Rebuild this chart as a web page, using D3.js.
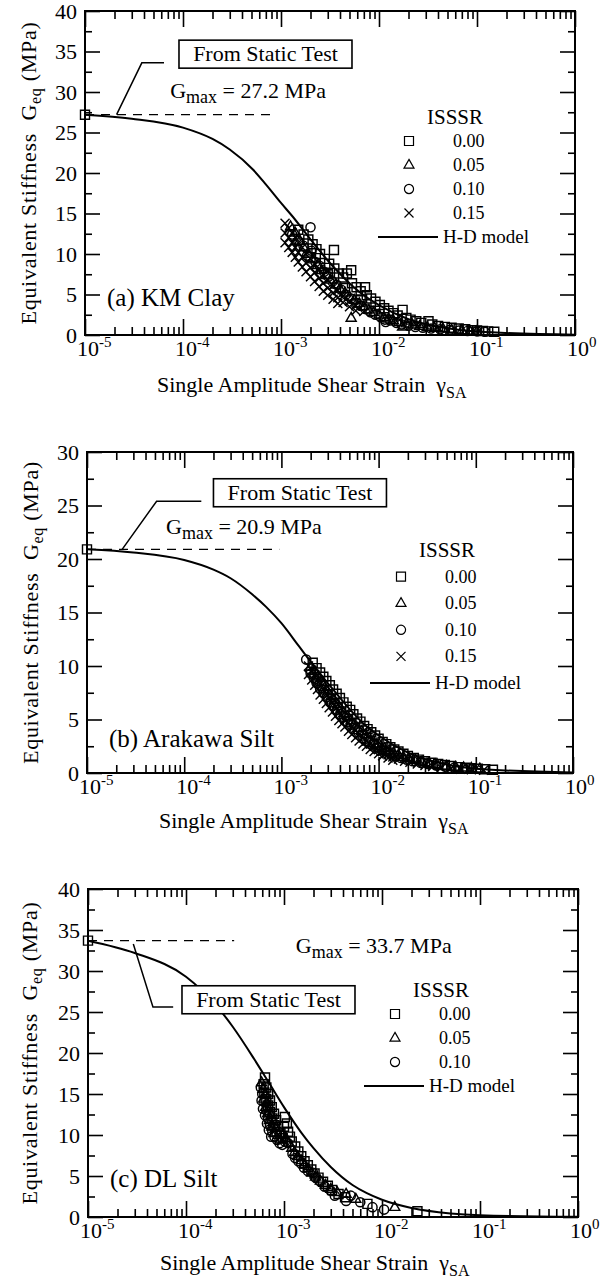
<!DOCTYPE html>
<html><head><meta charset="utf-8">
<script src="https://cdn.jsdelivr.net/npm/d3@7"></script>
<style>
body{margin:0;background:#fff}
svg text{font-family:"Liberation Serif","Times New Roman",serif;fill:#000}
</style>
</head><body>
<svg id="fig" width="612" height="1283"></svg>
<script>
// ---------- shared tick data ----------
const strainDecades = [1e-5, 1e-4, 1e-3, 1e-2, 1e-1, 1];
const decadeExponents = ["-5", "-4", "-3", "-2", "-1", "0"];
const yTicks40 = [0, 5, 10, 15, 20, 25, 30, 35, 40];
const yTicks30 = [0, 5, 10, 15, 20, 25, 30];
const isssrLabels = ["0.00", "0.05", "0.10", "0.15"];

// ---------- (a) KM Clay ----------
const gmaxA = 27.2;
const curveStrainA = [1e-5, 3e-5, 1e-4, 2e-4, 3e-4, 5.2e-4, 7e-4, 1e-3, 1.32e-3, 2e-3, 3e-3, 5e-3, 7e-3, 1e-2, 2e-2, 5e-2, 1e-1, 1];
const curveGA = [27.2, 26.7, 25.6, 24.2, 22.9, 20.4, 18.6, 16.3, 14.6, 11.8, 9.2, 6.4, 4.9, 3.7, 1.95, 0.82, 0.42, 0.04];
const kmSquares = [[1.5e-3,13.0],[1.7e-3,12.4],[1.9e-3,11.8],[2.1e-3,11.2],[2.3e-3,10.6],[2.5e-3,10.0],[2.8e-3,9.4],[3.1e-3,8.8],[3.47e-3,10.5],[3.5e-3,8.2],[3.9e-3,7.6],[4.3e-3,7.1],[4.7e-3,7.6],[5.2e-3,8.0],[5.3e-3,6.4],[5.9e-3,5.9],[6.5e-3,5.4],[7.2e-3,5.9],[7.5e-3,4.9],[8.3e-3,4.5],[9.2e-3,4.1],[1.02e-2,3.7],[1.13e-2,3.3],[1.25e-2,3.0],[1.4e-2,2.7],[1.55e-2,2.4],[1.74e-2,3.1],[1.9e-2,2.1],[2.1e-2,1.9],[2.4e-2,1.7],[2.7e-2,1.5],[3.2e-2,1.7],[3.5e-2,1.3],[4e-2,1.1],[4.7e-2,1.0],[5.5e-2,0.9],[6.5e-2,0.8],[7.5e-2,0.7],[8.8e-2,0.6],[0.1,0.55],[0.115,0.5],[0.13,0.45],[0.15,0.4],[2e-3,9.6],[3e-3,7.5],[4.5e-3,5.8],[6.5e-3,4.4]];
const kmTriangles = [[1.25e-3,13.4],[1.4e-3,12.6],[1.55e-3,11.6],[1.7e-3,10.8],[1.9e-3,10.0],[2.1e-3,9.3],[2.35e-3,8.6],[2.6e-3,8.0],[2.9e-3,7.4],[3.2e-3,6.8],[3.6e-3,6.2],[4e-3,5.7],[4.5e-3,5.2],[5.2e-3,2.1],[5e-3,4.7],[5.6e-3,4.3],[6.3e-3,3.9],[7e-3,3.5],[7.9e-3,3.1],[8.8e-3,2.8],[1e-2,2.5],[1.12e-2,2.2],[1.25e-2,2.0],[1.4e-2,1.8],[1.6e-2,1.6],[1.74e-2,1.0],[1.9e-2,1.4],[2.2e-2,1.25],[2.6e-2,1.1],[3.1e-2,0.95],[3.7e-2,0.85],[4.5e-2,0.75],[5.5e-2,0.65],[7e-2,0.55],[8.5e-2,0.5],[0.1,0.45]];
const kmCircles = [[1.3e-3,12.4],[1.5e-3,11.6],[1.7e-3,11.0],[2e-3,13.3],[1.85e-3,9.8],[2.05e-3,10.4],[2.25e-3,9.0],[2.5e-3,8.5],[2.75e-3,7.8],[3.05e-3,7.2],[3.35e-3,6.6],[3.7e-3,6.2],[4.1e-3,5.6],[4.6e-3,5.0],[5.2e-3,4.5],[5.8e-3,4.0],[6.5e-3,3.6],[7.3e-3,3.2],[8.2e-3,2.8],[9.2e-3,2.5],[1.04e-2,2.2],[1.17e-2,1.6],[1.15e-2,1.9],[1.3e-2,1.8],[1.5e-2,1.5],[1.7e-2,1.3],[2e-2,1.15],[2.35e-2,1.0],[2.8e-2,0.9],[3.4e-2,0.8],[4.2e-2,0.7],[5.2e-2,0.6],[6.5e-2,0.55],[8e-2,0.5],[0.1,0.45],[0.12,0.4]];
const kmCrosses = [[1.1e-3,13.8],[1.1e-3,12.6],[1.1e-3,11.4],[1.2e-3,13.2],[1.2e-3,12.0],[1.2e-3,10.8],[1.3e-3,12.6],[1.3e-3,11.4],[1.3e-3,10.2],[1.4e-3,12.0],[1.4e-3,10.8],[1.4e-3,9.6],[1.5e-3,11.4],[1.5e-3,10.2],[1.5e-3,9.0],[1.65e-3,10.8],[1.65e-3,9.6],[1.65e-3,8.4],[1.8e-3,10.0],[1.8e-3,8.9],[1.8e-3,7.8],[2e-3,9.4],[2e-3,8.3],[2e-3,7.2],[2.2e-3,8.8],[2.2e-3,7.7],[2.2e-3,6.6],[2.45e-3,8.1],[2.45e-3,7.0],[2.45e-3,6.0],[2.7e-3,7.4],[2.7e-3,6.4],[2.7e-3,5.4],[3e-3,6.8],[3e-3,5.8],[3e-3,4.9],[3.4e-3,6.1],[3.4e-3,5.2],[3.4e-3,4.4],[3.8e-3,5.5],[3.8e-3,4.6],[3.8e-3,3.9],[4.3e-3,4.8],[4.3e-3,4.0],[5e-3,4.2],[5e-3,3.5],[5.8e-3,3.6],[5.8e-3,3.0],[7e-3,2.9]];

// ---------- (b) Arakawa Silt ----------
const gmaxB = 20.9;
const curveStrainB = [1e-5, 3e-5, 1e-4, 2e-4, 3e-4, 5e-4, 7e-4, 1e-3, 1.5e-3, 2e-3, 3e-3, 5e-3, 7e-3, 1e-2, 2e-2, 5e-2, 1e-1, 1];
const curveGB = [20.9, 20.6, 19.9, 19.0, 18.2, 16.7, 15.5, 14.0, 11.9, 10.4, 8.4, 6.0, 4.6, 3.5, 1.9, 0.8, 0.4, 0.04];
const akSquares = [[2.1e-3,10.3],[2.3e-3,9.8],[2.5e-3,9.4],[2.7e-3,9.0],[2.9e-3,8.6],[3.15e-3,8.2],[3.4e-3,7.8],[3.7e-3,7.4],[4e-3,7.0],[4.35e-3,6.6],[4.7e-3,6.2],[5.1e-3,5.9],[5.5e-3,5.5],[6e-3,5.1],[6.5e-3,4.8],[7.1e-3,4.4],[7.7e-3,4.1],[8.4e-3,3.8],[9.2e-3,3.5],[1e-2,3.2],[1.1e-2,2.9],[1.2e-2,2.7],[1.32e-2,2.4],[1.45e-2,2.2],[1.6e-2,2.0],[1.8e-2,1.8],[2e-2,1.6],[2.3e-2,1.4],[2.6e-2,1.25],[3e-2,1.1],[3.5e-2,0.95],[4.1e-2,0.85],[4.8e-2,0.75],[5.6e-2,0.65],[6.6e-2,0.55],[7.8e-2,0.5],[9e-2,0.45],[0.105,0.4],[0.125,0.35],[0.15,0.3]];
const akTriangles = [[2e-3,9.9],[2.2e-3,9.5],[2.4e-3,9.0],[2.6e-3,8.5],[2.8e-3,8.0],[3e-3,7.6],[3.25e-3,7.2],[3.5e-3,6.8],[3.8e-3,6.4],[4.1e-3,6.0],[4.4e-3,5.6],[4.8e-3,5.3],[5.2e-3,4.9],[5.6e-3,4.6],[6.1e-3,4.2],[6.7e-3,3.9],[7.3e-3,3.6],[8e-3,3.3],[8.8e-3,3.0],[9.6e-3,2.7],[1.05e-2,2.5],[1.15e-2,2.3],[1.28e-2,2.1],[1.42e-2,1.9],[1.6e-2,1.7],[1.8e-2,1.5],[2.05e-2,1.35],[2.4e-2,1.2],[2.8e-2,1.05],[3.3e-2,0.9],[4e-2,0.8],[5e-2,0.65],[6.2e-2,0.55],[7.5e-2,0.5],[9e-2,0.45],[0.11,0.4]];
const akCircles = [[1.8e-3,10.6],[2e-3,9.3],[2.15e-3,8.9],[2.3e-3,8.4],[2.5e-3,7.9],[2.7e-3,7.5],[2.95e-3,7.1],[3.2e-3,6.6],[3.45e-3,6.3],[3.75e-3,5.9],[4.05e-3,5.5],[4.4e-3,5.2],[4.8e-3,4.8],[5.2e-3,4.5],[5.7e-3,4.1],[6.2e-3,3.8],[6.8e-3,3.5],[7.4e-3,3.2],[8.1e-3,2.9],[8.9e-3,2.7],[9.8e-3,2.4],[1.08e-2,2.2],[1.2e-2,2.0],[1.33e-2,1.8],[1.5e-2,1.6],[1.7e-2,1.4],[1.95e-2,1.25],[2.25e-2,1.1],[2.7e-2,0.95],[3.2e-2,0.85],[3.9e-2,0.7],[4.8e-2,0.6],[6e-2,0.5],[7.5e-2,0.45],[9e-2,0.4]];
const akCrosses = [[1.9e-3,10.0],[1.9e-3,9.2],[2.05e-3,9.6],[2.05e-3,8.7],[2.2e-3,9.2],[2.2e-3,8.2],[2.35e-3,8.7],[2.35e-3,7.8],[2.5e-3,8.3],[2.5e-3,7.3],[2.7e-3,7.8],[2.7e-3,6.9],[2.9e-3,7.4],[2.9e-3,6.5],[3.1e-3,7.0],[3.1e-3,6.1],[3.35e-3,6.6],[3.35e-3,5.7],[3.6e-3,6.2],[3.6e-3,5.3],[3.9e-3,5.8],[3.9e-3,4.9],[4.2e-3,5.4],[4.2e-3,4.6],[4.5e-3,5.0],[4.5e-3,4.3],[4.9e-3,4.7],[4.9e-3,3.9],[5.3e-3,4.3],[5.3e-3,3.6],[5.8e-3,4.0],[5.8e-3,3.3],[6.3e-3,3.6],[6.3e-3,3.0],[6.9e-3,3.3],[6.9e-3,2.7],[7.5e-3,3.0],[7.5e-3,2.5],[8.2e-3,2.7],[8.2e-3,2.2],[9e-3,2.5],[9e-3,2.0],[1e-2,2.2],[1e-2,1.8],[1.1e-2,2.0],[1.1e-2,1.6],[1.25e-2,1.7],[1.25e-2,1.4],[1.4e-2,1.5],[1.4e-2,1.2],[1.6e-2,1.3],[1.85e-2,1.1],[2.1e-2,1.0],[2.5e-2,0.85],[3e-2,0.7],[3.6e-2,0.6],[4.4e-2,0.5],[5.5e-2,0.4],[7e-2,0.35],[9e-2,0.3],[0.12,0.25]];

// ---------- (c) DL Silt ----------
const gmaxC = 33.7;
const curveStrainC = [1e-5, 3e-5, 1e-4, 2e-4, 3e-4, 5e-4, 7e-4, 1e-3, 1.5e-3, 2e-3, 3e-3, 5e-3, 7e-3, 1e-2, 2e-2, 5e-2, 1e-1, 1];
const curveGC = [33.7, 32.2, 29.3, 25.9, 23.2, 19.2, 16.4, 13.4, 10.3, 8.4, 6.1, 3.9, 2.9, 2.1, 1.1, 0.44, 0.22, 0.02];
const dlSquares = [[6.4e-4,17.0],[6.2e-4,16.2],[6.6e-4,15.8],[6.3e-4,15.2],[6.9e-4,15.0],[6.6e-4,14.4],[7.2e-4,14.2],[6.9e-4,13.6],[7.5e-4,13.4],[7.2e-4,12.8],[7.9e-4,12.6],[7.6e-4,12.0],[8.3e-4,11.8],[8e-4,11.2],[8.7e-4,11.0],[8.4e-4,10.4],[9.2e-4,10.2],[9.7e-4,9.6],[1e-3,11.0],[1.02e-3,12.2],[1.07e-3,11.4],[1.1e-3,10.4],[1.15e-3,9.8],[1.2e-3,9.2],[1.3e-3,8.6],[1.4e-3,8.0],[1.5e-3,7.4],[1.62e-3,6.8],[1.75e-3,6.3],[1.9e-3,5.8],[2.05e-3,5.3],[2.25e-3,4.8],[2.5e-3,4.3],[2.8e-3,3.8],[3.1e-3,3.3],[3.6e-3,2.8],[4.2e-3,2.4],[7.1e-3,1.6],[2.3e-2,0.7]];
const dlTriangles = [[5.9e-4,16.4],[6.1e-4,15.6],[6.4e-4,15.0],[6.2e-4,14.4],[6.7e-4,14.0],[6.5e-4,13.4],[7e-4,13.2],[6.8e-4,12.6],[7.4e-4,12.4],[7.1e-4,11.8],[7.8e-4,11.6],[7.5e-4,11.0],[8.2e-4,10.8],[7.9e-4,10.2],[8.7e-4,10.0],[9.2e-4,9.4],[9.8e-4,10.0],[1.05e-3,9.6],[1.12e-3,9.0],[1.2e-3,8.4],[1.28e-3,7.9],[1.38e-3,7.4],[1.5e-3,6.9],[1.62e-3,6.4],[1.76e-3,5.9],[1.92e-3,5.4],[2.1e-3,4.9],[2.35e-3,4.4],[2.65e-3,3.9],[3e-3,3.4],[3.5e-3,3.0],[4.3e-3,2.8],[5.4e-3,2.2],[1.35e-2,1.2]];
const dlCircles = [[5.8e-4,15.8],[6e-4,15.0],[5.9e-4,14.2],[6.3e-4,14.0],[6.1e-4,13.2],[6.6e-4,13.0],[6.4e-4,12.4],[6.9e-4,12.0],[6.7e-4,11.4],[7.2e-4,11.2],[7e-4,10.6],[7.6e-4,10.4],[7.4e-4,9.8],[8e-4,9.8],[8.5e-4,9.4],[9e-4,9.0],[9.6e-4,8.8],[1.02e-3,9.2],[1.1e-3,9.0],[1.22e-3,7.7],[1.3e-3,7.2],[1.4e-3,6.8],[1.5e-3,6.5],[1.6e-3,6.0],[1.75e-3,5.6],[1.98e-3,5.4],[2.1e-3,4.8],[2.3e-3,4.4],[2.6e-3,3.7],[3e-3,3.2],[3.3e-3,2.6],[4.3e-3,1.95],[4.8e-3,2.6],[6e-3,1.8],[8e-3,1.2],[1.05e-2,0.9]];

// ---------- drawing ----------
const svg = d3.select("#fig");
const FONT = 22;

const shapes = {
  square: "M-4.5,-4.5h9v9h-9Z",
  triangle: "M0,-5.6L5,3.2L-5,3.2Z",
  circle: d3.symbol(d3.symbolCircle, 66)(),
  cross: "M-4.5,-4.5L4.5,4.5M-4.5,4.5L4.5,-4.5"
};

function drawPanel(cfg) {
  const g = svg.append("g");
  const x = d3.scaleLog().domain([1e-5, 1]).range([cfg.left, cfg.right]);
  const y = d3.scaleLinear().domain([0, cfg.yMax]).range([cfg.bottom, cfg.top]);
  const minorX = [];
  strainDecades.slice(0, -1).forEach(d => { for (let k = 2; k <= 9; k++) minorX.push(d * k); });
  const minorY = d3.range(2.5, cfg.yMax, 5);

  const axes = [
    [d3.axisBottom(x).tickValues(strainDecades).tickSize(-16), cfg.bottom, "x"],
    [d3.axisBottom(x).tickValues(minorX).tickSize(-8), cfg.bottom, "x"],
    [d3.axisTop(x).tickValues(strainDecades).tickSize(-16), cfg.top, "x"],
    [d3.axisTop(x).tickValues(minorX).tickSize(-8), cfg.top, "x"],
    [d3.axisLeft(y).tickValues(minorY).tickSize(-7), cfg.left, "y"],
    [d3.axisRight(y).tickValues(cfg.yTicks).tickSize(-15), cfg.right, "y"],
    [d3.axisRight(y).tickValues(minorY).tickSize(-7), cfg.right, "y"]
  ];
  axes.forEach(([ax, pos, dir]) => {
    const a = g.append("g").attr("transform", dir === "x" ? `translate(0,${pos})` : `translate(${pos},0)`)
      .call(ax.tickFormat(""));
    a.select(".domain").remove();
    a.selectAll("line").attr("stroke", "#000").attr("stroke-width", 1.6);
  });
  const la = g.append("g").attr("transform", `translate(${cfg.left},0)`)
    .call(d3.axisLeft(y).tickValues(cfg.yTicks).tickSize(-15).tickPadding(8));
  la.select(".domain").remove();
  la.selectAll("line").attr("stroke", "#000").attr("stroke-width", 1.6);
  la.selectAll("text").attr("font-size", FONT).attr("font-family", "Liberation Serif").attr("fill", "#000");

  g.append("rect").attr("x", cfg.left).attr("y", cfg.top)
    .attr("width", cfg.right - cfg.left).attr("height", cfg.bottom - cfg.top)
    .attr("fill", "none").attr("stroke", "#000").attr("stroke-width", 2);

  strainDecades.forEach((d, i) => {
    const t = g.append("text").attr("x", x(d) - 8).attr("y", cfg.bottom + 21).attr("font-size", FONT);
    t.append("tspan").text("10");
    t.append("tspan").attr("font-size", 15).attr("dy", -9).text(decadeExponents[i]);
  });

  const xt = g.append("text").attr("x", cfg.left + 72).attr("y", cfg.bottom + cfg.xTitleDy).attr("font-size", FONT);
  xt.append("tspan").text("Single Amplitude Shear Strain\u00a0\u00a0\u03b3");
  xt.append("tspan").attr("font-size", 16).attr("dy", 6).text("SA");

  const yt = g.append("text")
    .attr("transform", `translate(${cfg.yTitleX},${(cfg.top + cfg.bottom) / 2}) rotate(-90)`)
    .attr("text-anchor", "middle").attr("font-size", FONT).attr("letter-spacing", 0.7);
  yt.append("tspan").text("Equivalent Stiffness\u00a0\u00a0G");
  yt.append("tspan").attr("font-size", 16).attr("dy", 5).text("eq");
  yt.append("tspan").attr("dy", -5).text("\u00a0(MPa)");

  const line = d3.line().x(d => x(d[0])).y(d => y(d[1])).curve(d3.curveMonotoneX);
  g.append("path").datum(cfg.curveStrain.map((s, i) => [s, cfg.curveG[i]]))
    .attr("d", line).attr("fill", "none").attr("stroke", "#000").attr("stroke-width", 2);

  g.append("line").attr("x1", x(1e-5)).attr("x2", x(cfg.dashEnd))
    .attr("y1", y(cfg.gmax)).attr("y2", y(cfg.gmax))
    .attr("stroke", "#000").attr("stroke-width", 1.2).attr("stroke-dasharray", "9,7");

  g.append("path").attr("d", d3.line()(cfg.leader.map(p => [x(p[0]), y(p[1])])))
    .attr("fill", "none").attr("stroke", "#000").attr("stroke-width", 1.5);

  const bx = x(cfg.box[0]), by = y(cfg.box[1]);
  g.append("rect").attr("x", bx).attr("y", by).attr("width", 173).attr("height", 28)
    .attr("fill", "#fff").attr("stroke", "#000").attr("stroke-width", 1.6);
  g.append("text").attr("x", bx + 86.5).attr("y", by + 21).attr("text-anchor", "middle")
    .attr("font-size", FONT).text("From Static Test");

  const gt = g.append("text").attr("x", x(cfg.gmaxLabel[0])).attr("y", y(cfg.gmaxLabel[1])).attr("font-size", FONT);
  gt.append("tspan").text("G");
  gt.append("tspan").attr("font-size", 18).attr("dy", 5).text("max");
  gt.append("tspan").attr("dy", -5).text(" = " + cfg.gmax.toFixed(1) + " MPa");

  cfg.series.forEach(s => {
    g.append("g").selectAll("path").data(s.data).join("path")
      .attr("transform", d => `translate(${x(d[0])},${y(d[1])})`)
      .attr("d", shapes[s.shape]).attr("fill", "none").attr("stroke", "#000").attr("stroke-width", 1.45);
  });
  g.append("path").attr("transform", `translate(${x(1e-5)},${y(cfg.gmax)})`)
    .attr("d", shapes.square).attr("fill", "none").attr("stroke", "#000").attr("stroke-width", 1.4);

  g.append("text").attr("x", cfg.left + 22).attr("y", y(cfg.labelG)).attr("font-size", 25).text(cfg.label);

  const L = cfg.legend;
  g.append("text").attr("x", L.x + 46).attr("y", L.y + 7).attr("text-anchor", "middle")
    .attr("font-size", 21).text("ISSSR");
  cfg.series.forEach((s, i) => {
    const yy = L.y + L.dy * (i + 1);
    g.append("path").attr("transform", `translate(${L.x},${yy})`).attr("d", shapes[s.shape])
      .attr("fill", "none").attr("stroke", "#000").attr("stroke-width", 1.2);
    g.append("text").attr("x", L.x + 44).attr("y", yy + 6).attr("font-size", 18).text(isssrLabels[i]);
  });
  const hy = L.y + L.dy * (cfg.series.length + 1);
  g.append("line").attr("x1", L.x - 31).attr("x2", L.x + 29).attr("y1", hy).attr("y2", hy)
    .attr("stroke", "#000").attr("stroke-width", 2);
  g.append("text").attr("x", L.x + 34).attr("y", hy + 6).attr("font-size", 19).text("H-D model");
}

drawPanel({
  left: 85, right: 575, top: 11, bottom: 335, yMax: 40, yTicks: yTicks40,
  xTitleDy: 57, yTitleX: 36,
  gmax: gmaxA, curveStrain: curveStrainA, curveG: curveGA,
  dashEnd: 9.1e-4, leader: [[2.1e-5, 27.2], [3.8e-5, 33.6], [6.4e-5, 33.6]],
  box: [9.1e-5, 36.4], gmaxLabel: [7.4e-5, 29.2],
  label: "(a) KM Clay", labelG: 3.6,
  legend: { x: 409, y: 117, dy: 24 },
  series: [{ shape: "square", data: kmSquares }, { shape: "triangle", data: kmTriangles },
           { shape: "circle", data: kmCircles }, { shape: "cross", data: kmCrosses }]
});

drawPanel({
  left: 87, right: 573, top: 452, bottom: 773, yMax: 30, yTicks: yTicks30,
  xTitleDy: 55, yTitleX: 38,
  gmax: gmaxB, curveStrain: curveStrainB, curveG: curveGB,
  dashEnd: 9.5e-4, leader: [[2.3e-5, 20.9], [5.2e-5, 25.4], [1.5e-4, 25.4]],
  box: [2.0e-4, 27.5], gmaxLabel: [6.5e-5, 22.3],
  label: "(b) Arakawa Silt", labelG: 2.4,
  legend: { x: 401, y: 550, dy: 26.6 },
  series: [{ shape: "square", data: akSquares }, { shape: "triangle", data: akTriangles },
           { shape: "circle", data: akCircles }, { shape: "cross", data: akCrosses }]
});

drawPanel({
  left: 88, right: 578, top: 889, bottom: 1217, yMax: 40, yTicks: yTicks40,
  xTitleDy: 53, yTitleX: 37,
  gmax: gmaxC, curveStrain: curveStrainC, curveG: curveGC,
  dashEnd: 3.1e-4, leader: [[2.9e-5, 33.3], [4.6e-5, 25.6], [7.4e-5, 25.6]],
  box: [9.1e-5, 28.2], gmaxLabel: [1.32e-3, 32.2],
  label: "(c) DL Silt", labelG: 3.6,
  legend: { x: 395, y: 990, dy: 24 },
  series: [{ shape: "square", data: dlSquares }, { shape: "triangle", data: dlTriangles },
           { shape: "circle", data: dlCircles }]
});
</script>
</body></html>
